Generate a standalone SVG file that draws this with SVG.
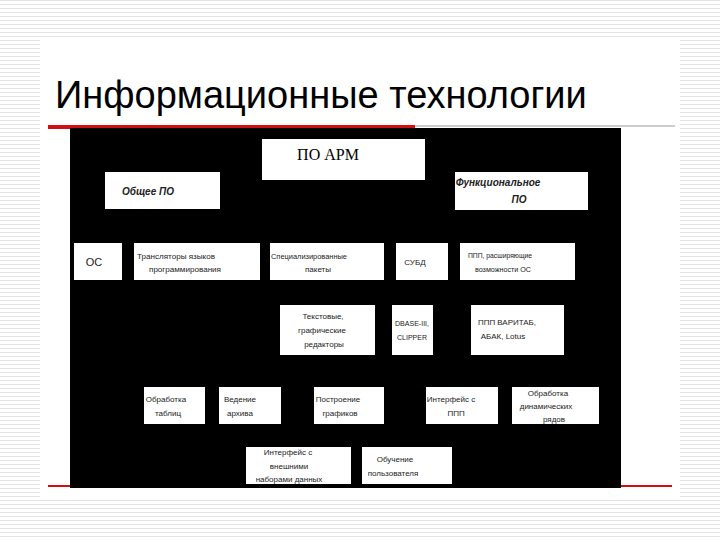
<svg xmlns="http://www.w3.org/2000/svg" width="720" height="540" viewBox="0 0 720 540">
<defs>
<pattern id="st" width="4" height="4" patternUnits="userSpaceOnUse"><rect width="4" height="4" fill="#fff"/><rect width="4" height="1" fill="#e4e4e4"/></pattern>
<style>
.b{fill:#fff}
.t{font-family:"Liberation Sans",sans-serif;font-size:8px;fill:#222;text-anchor:middle}
.h{font-size:10px;font-weight:bold;font-style:italic}
</style>
</defs>
<rect width="720" height="540" fill="url(#st)"/>
<rect x="40" y="40" width="640" height="460" fill="#fff"/>
<text x="55" y="108" font-family="Liberation Sans, sans-serif" font-size="38" fill="#000">Информационные технологии</text>
<line x1="48" y1="127" x2="415" y2="127" stroke="#d01010" stroke-width="4"/>
<line x1="415" y1="126" x2="675" y2="126" stroke="#999" stroke-width="1"/>
<line x1="48" y1="486" x2="672" y2="486" stroke="#d01010" stroke-width="2"/>
<rect x="70" y="128" width="551" height="360" fill="#000"/>
<g id="poarm"><rect class="b" x="262" y="139" width="163" height="41"/><text x="328" y="160" font-family="Liberation Serif, serif" font-size="16" text-anchor="middle">ПО АРМ</text></g>
<g id="obshee"><rect class="b" x="105" y="172" width="115" height="37"/><text class="t h" x="148" y="195">Общее ПО</text></g>
<g id="func"><rect class="b" x="455" y="172" width="133" height="38"/><text class="t h" x="498" y="186">Функциональное</text><text class="t h" x="519" y="203">ПО</text></g>
<g id="os"><rect class="b" x="74" y="243" width="48" height="37"/><text class="t" x="94" y="266" style="font-size:11px">ОС</text></g>
<g id="trans"><rect class="b" x="134" y="243" width="126" height="37"/><text class="t" x="176" y="259" textLength="78" lengthAdjust="spacingAndGlyphs">Трансляторы языков</text><text class="t" x="185" y="272" textLength="72" lengthAdjust="spacingAndGlyphs">программирования</text></g>
<g id="spec"><rect class="b" x="270" y="243" width="114" height="37"/><text class="t" x="309" y="259" textLength="76" lengthAdjust="spacingAndGlyphs">Специализированные</text><text class="t" x="318" y="272">пакеты</text></g>
<g id="subd"><rect class="b" x="396" y="243" width="52" height="37"/><text class="t" x="415" y="265">СУБД</text></g>
<g id="ppp"><rect class="b" x="460" y="243" width="115" height="37"/><text class="t" x="500" y="258" textLength="64" lengthAdjust="spacingAndGlyphs">ППП, расширяющие</text><text class="t" x="503" y="272" textLength="56" lengthAdjust="spacingAndGlyphs">возможности ОС</text></g>
<g id="text"><rect class="b" x="280" y="305" width="95" height="50"/><text class="t" x="323" y="319">Текстовые,</text><text class="t" x="322" y="333">графические</text><text class="t" x="324" y="347">редакторы</text></g>
<g id="dbase"><rect class="b" x="392" y="305" width="41" height="50"/><text class="t" x="412" y="326" textLength="34" lengthAdjust="spacingAndGlyphs">DBASE-III,</text><text class="t" x="412" y="340" textLength="30" lengthAdjust="spacingAndGlyphs">CLIPPER</text></g>
<g id="varitab"><rect class="b" x="471" y="305" width="93" height="50"/><text class="t" x="507" y="325" textLength="58" lengthAdjust="spacingAndGlyphs">ППП ВАРИТАБ,</text><text class="t" x="503" y="339">АБАК, Lotus</text></g>
<g id="tab"><rect class="b" x="144" y="387" width="61" height="37"/><text class="t" x="166" y="402">Обработка</text><text class="t" x="168" y="416">таблиц</text></g>
<g id="arch"><rect class="b" x="219" y="387" width="62" height="37"/><text class="t" x="240" y="402">Ведение</text><text class="t" x="240" y="416">архива</text></g>
<g id="graph"><rect class="b" x="314" y="387" width="70" height="37"/><text class="t" x="338" y="402">Построение</text><text class="t" x="340" y="416">графиков</text></g>
<g id="intppp"><rect class="b" x="426" y="387" width="72" height="37"/><text class="t" x="451" y="402">Интерфейс с</text><text class="t" x="456" y="416">ППП</text></g>
<g id="dyn"><rect class="b" x="512" y="387" width="87" height="37"/><text class="t" x="548" y="396">Обработка</text><text class="t" x="546" y="409">динамических</text><text class="t" x="554" y="422">рядов</text></g>
<g id="ext"><rect class="b" x="246" y="447" width="105" height="37"/><text class="t" x="288" y="455">Интерфейс с</text><text class="t" x="289" y="469">внешними</text><text class="t" x="289" y="482">наборами данных</text></g>
<g id="obuch"><rect class="b" x="362" y="447" width="90" height="37"/><text class="t" x="395" y="462">Обучение</text><text class="t" x="393" y="476">пользователя</text></g>
<g id="connectors"/>
</svg>
